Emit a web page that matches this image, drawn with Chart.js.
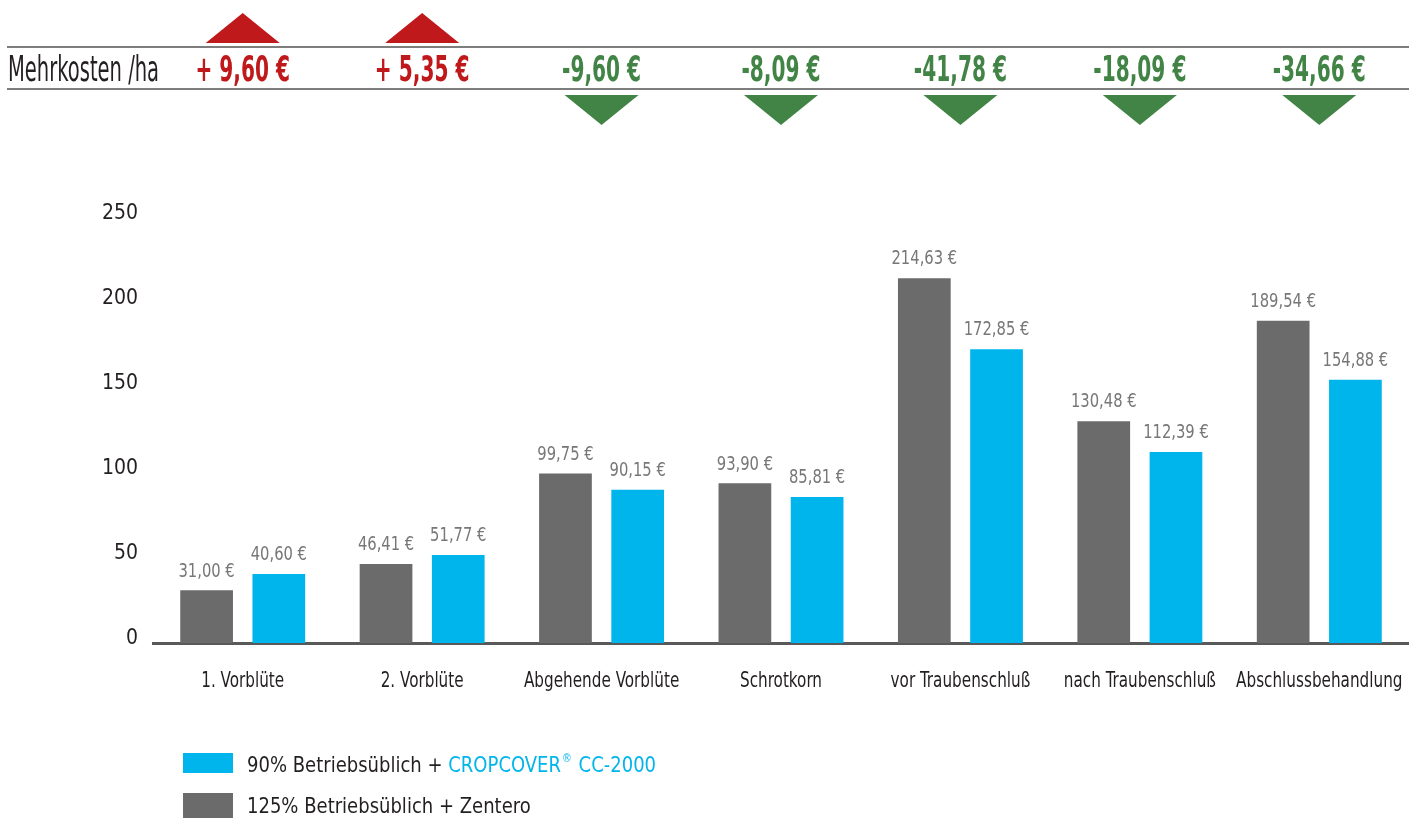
<!DOCTYPE html>
<html>
<head>
<meta charset="utf-8">
<script src="https://cdn.jsdelivr.net/npm/chart.js@4"></script>
<style>
  html, body { margin: 0; padding: 0; background: #ffffff; overflow: hidden; }
  #wrap { width: 1409px; height: 818px; position: relative; }
</style>
</head>
<body>
<div id="wrap"><canvas id="chart" width="1409" height="818"></canvas></div>
<script>
// ===============================
// DATA
// ===============================

const categories = [
    "1. Vorblüte", "2. Vorblüte", "Abgehende Vorblüte", "Schrotkorn",
    "vor Traubenschluß", "nach Traubenschluß", "Abschlussbehandlung"
];

const zenteroValues = [31.00, 46.41, 99.75, 93.90, 214.63, 130.48, 189.54];
const cropcoverValues = [40.60, 51.77, 90.15, 85.81, 172.85, 112.39, 154.88];

const extraCosts = [9.60, 5.35, -9.60, -8.09, -41.78, -18.09, -34.66];

const yTicks = [0, 50, 100, 150, 200, 250];

// ===============================
// STYLING
// ===============================

const FONT = "'Liberation Sans Narrow', 'DejaVu Sans Condensed', 'Noto Sans', sans-serif";
const GRAY = "#6b6b6b";
const CYAN = "#00b5ec";
const RED = "#c0191c";
const GREEN = "#428446";
const TEXT = "#231f20";

const fmt = v => v.toFixed(2).replace(".", ",");

// the original uses a narrow DIN-like face, so squeeze text horizontally
function squeezeText(ctx, text, x, y, sx, align) {
    ctx.save();
    ctx.translate(x, y);
    ctx.scale(sx, 1);
    ctx.textAlign = align;
    ctx.fillText(text, 0, 0);
    ctx.restore();
}

// value labels above bars
const barLabels = {
    id: "barLabels",
    afterDatasetsDraw(chart) {
        const ctx = chart.ctx;
        ctx.save();
        ctx.font = "20px " + FONT;
        ctx.fillStyle = "#777777";
        ctx.textBaseline = "bottom";
        chart.data.datasets.forEach((ds, i) => {
            chart.getDatasetMeta(i).data.forEach((bar, j) => {
                squeezeText(ctx, fmt(ds.data[j]) + " €", bar.x, bar.y - 9, 0.82, "center");
            });
        });
        ctx.restore();
    }
};

// category names under the axis
const catLabels = {
    id: "catLabels",
    afterDraw(chart) {
        const ctx = chart.ctx;
        const x = chart.scales.x;
        ctx.save();
        ctx.font = "22px " + FONT;
        ctx.fillStyle = TEXT;
        ctx.textBaseline = "middle";
        categories.forEach((c, i) => {
            squeezeText(ctx, c, x.getPixelForValue(i), 681, 0.77, "center");
        });
        ctx.restore();
    }
};

// header row "Mehrkosten /ha" with triangles
const header = {
    id: "header",
    afterDraw(chart) {
        const ctx = chart.ctx;
        const x = chart.scales.x;
        ctx.save();
        ctx.strokeStyle = "#7d7d7d";
        ctx.lineWidth = 2;
        [47, 89].forEach(y => {
            ctx.beginPath();
            ctx.moveTo(7, y);
            ctx.lineTo(chart.width, y);
            ctx.stroke();
        });
        ctx.fillStyle = TEXT;
        ctx.font = "35px " + FONT;
        ctx.textBaseline = "alphabetic";
        squeezeText(ctx, "Mehrkosten /ha", 8, 81, 0.62, "left");

        ctx.font = "bold 35px " + FONT;
        extraCosts.forEach((v, i) => {
            const cx = x.getPixelForValue(i);
            const up = v > 0;
            ctx.fillStyle = up ? RED : GREEN;
            squeezeText(ctx, up ? "+ " + fmt(v) + " €" : fmt(v) + " €", cx, 81, 0.64, "center");
            ctx.beginPath();
            if (up) {
                ctx.moveTo(cx - 37, 43);
                ctx.lineTo(cx + 37, 43);
                ctx.lineTo(cx, 13);
            } else {
                ctx.moveTo(cx - 37, 95);
                ctx.lineTo(cx + 37, 95);
                ctx.lineTo(cx, 125);
            }
            ctx.closePath();
            ctx.fill();
        });
        ctx.restore();
    }
};

// custom legend at the bottom
const legendBox = {
    id: "legendBox",
    afterDraw(chart) {
        const ctx = chart.ctx;
        const sx = 0.91;
        ctx.save();
        ctx.font = "22px " + FONT;
        ctx.textBaseline = "middle";

        ctx.fillStyle = CYAN;
        ctx.fillRect(183, 753, 50, 20);
        let tx = 247;
        ctx.fillStyle = TEXT;
        const t1 = "90% Betriebsüblich + ";
        squeezeText(ctx, t1, tx, 766, sx, "left");
        tx += ctx.measureText(t1).width * sx;
        ctx.fillStyle = CYAN;
        squeezeText(ctx, "CROPCOVER", tx, 766, sx, "left");
        tx += ctx.measureText("CROPCOVER").width * sx;
        ctx.font = "12px " + FONT;
        squeezeText(ctx, "®", tx + 1, 759, sx, "left");
        tx += ctx.measureText("®").width * sx + 2;
        ctx.font = "22px " + FONT;
        squeezeText(ctx, " CC-2000", tx, 766, sx, "left");

        ctx.fillStyle = GRAY;
        ctx.fillRect(183, 793, 50, 25);
        ctx.fillStyle = TEXT;
        squeezeText(ctx, "125% Betriebsüblich + Zentero", 247, 807, sx, "left");
        ctx.restore();
    }
};

new Chart(document.getElementById("chart"), {
    type: "bar",
    data: {
        labels: categories,
        datasets: [
            {
                label: "125% Betriebsüblich + Zentero",
                data: zenteroValues,
                backgroundColor: GRAY
            },
            {
                label: "90% Betriebsüblich + CROPCOVER® CC-2000",
                data: cropcoverValues,
                backgroundColor: CYAN
            }
        ]
    },
    options: {
        responsive: false,
        animation: false,
        categoryPercentage: 0.805,
        barPercentage: 0.73,
        layout: { padding: { top: 218, left: 0, right: -6, bottom: 0 } },
        plugins: {
            legend: { display: false },
            tooltip: { enabled: false }
        },
        scales: {
            x: {
                grid: { display: false, drawTicks: false },
                border: { display: true, color: "#595959", width: 3 },
                ticks: { display: false },
                afterFit(scale) {
                    scale.height = 175;
                    scale.paddingLeft = 0;
                    scale.paddingRight = 0;
                }
            },
            y: {
                min: 0,
                max: 250,
                grid: { display: false, drawTicks: false },
                border: { display: false },
                afterBuildTicks(scale) {
                    scale.ticks = yTicks.map(v => ({ value: v }));
                },
                ticks: {
                    color: TEXT,
                    font: { family: FONT, size: 21 },
                    padding: 15,
                    labelOffset: -4
                },
                afterFit(scale) { scale.width = 153; }
            }
        }
    },
    plugins: [barLabels, catLabels, header, legendBox]
});
</script>
</body>
</html>
